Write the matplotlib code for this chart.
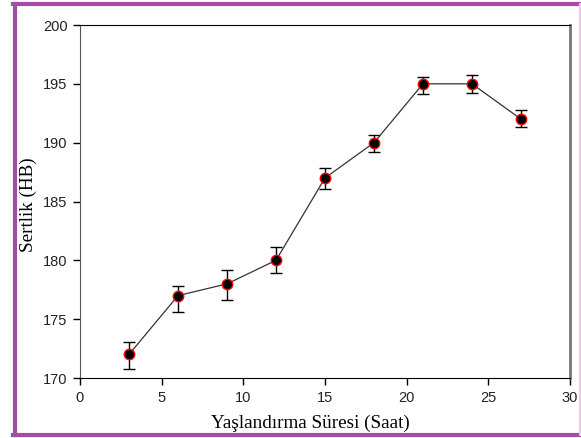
import matplotlib
matplotlib.use("Agg")
import matplotlib.pyplot as plt
from matplotlib.lines import Line2D

hours = [3, 6, 9, 12, 15, 18, 21, 24, 27]
hardness = [172, 177, 178, 180, 187, 190, 195, 195, 192]
err_low = [1.25, 1.4, 1.35, 1.1, 0.95, 0.8, 0.9, 0.75, 0.65]
err_high = [1.1, 0.8, 1.2, 1.1, 0.85, 0.65, 0.6, 0.75, 0.8]
xticks = [0, 5, 10, 15, 20, 25, 30]
yticks = [170, 175, 180, 185, 190, 195, 200]

fig = plt.figure(figsize=(5.81, 4.38), dpi=100)
ax = fig.add_axes([80/581, 1-378/438, 490/581, 353/438])

ax.errorbar(hours, hardness, yerr=[err_low, err_high], fmt='none',
            ecolor='black', elinewidth=1, capsize=4, capthick=1, zorder=2)
ax.plot(hours, hardness, color='#333333', lw=0.9, zorder=3)
ax.plot(hours, hardness, 'o', color='black', markeredgecolor='red',
        markeredgewidth=1, markersize=7.5, zorder=4)

ax.set_xlim(0, 30)
ax.set_ylim(170, 200)
ax.set_xticks(xticks)
ax.set_yticks(yticks)
ax.tick_params(direction='out', length=5, width=1, labelsize=10.5, pad=4)
for lab in ax.get_xticklabels() + ax.get_yticklabels():
    lab.set_family('Liberation Sans')
    lab.set_color('#222222')

ax.spines['left'].set_color('#555555')
ax.spines['right'].set_color('#777777')
ax.spines['right'].set_linewidth(2)
ax.spines['top'].set_color('black')
ax.spines['bottom'].set_color('black')

fig.text(310/581, 1-423/438, 'Yaşlandırma Süresi (Saat)', family='Liberation Serif',
         fontsize=13.8, ha='center', va='center')
fig.text(28/581, 1-205/438, 'Sertlik (HB)', family='Liberation Serif',
         fontsize=13.8, ha='center', va='center', rotation=90)

# purple frame
purple = '#a64ca6'
fig.add_artist(Line2D([14.5/581, 14.5/581], [1-4/438, 1-434.5/438], color=purple, lw=3, transform=fig.transFigure))
fig.add_artist(Line2D([13/581, 581/581], [1-4/438, 1-4/438], color=purple, lw=3, transform=fig.transFigure))
fig.add_artist(Line2D([13/581, 581/581], [1-434.5/438, 1-434.5/438], color=purple, lw=3, transform=fig.transFigure))
fig.add_artist(Line2D([580/581, 580/581], [1-4/438, 1-434.5/438], color='#ecc8ec', lw=1.5, transform=fig.transFigure))

fig.savefig('out.png', dpi=100)
